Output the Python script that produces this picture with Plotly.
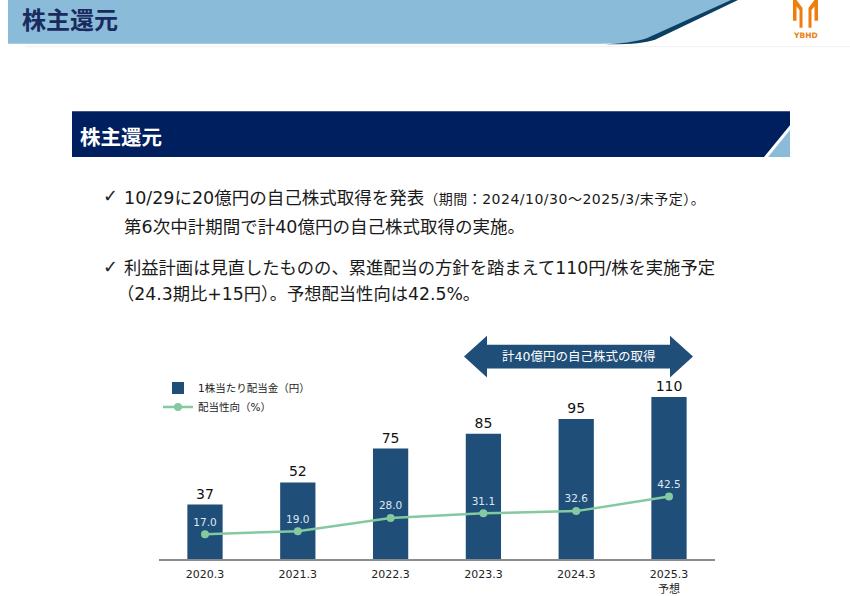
import plotly.graph_objects as go

W, H = 850, 596

categories = ["2020.3", "2021.3", "2022.3", "2023.3", "2024.3", "2025.3<br>予想"]
dividend = [37, 52, 75, 85, 95, 110]
payout = [17.0, 19.0, 28.0, 31.1, 32.6, 42.5]
bar_name = "1株当たり配当金（円）"
line_name = "配当性向（%）"

FONT = "DejaVu Sans, Noto Sans CJK JP"
CJK = "Noto Sans CJK JP"
NAVY = "#001f5f"
BAR = "#1f4e79"
LIGHT = "#8abcd9"
GREEN = "#84c9a0"


def px(x):
    return x / W


def py(y):
    return 1 - y / H


def path(points):
    s = "M " + " L ".join(f"{px(x):.5f},{py(y):.5f}" for x, y in points) + " Z"
    return s


fig = go.Figure()
fig.add_trace(go.Bar(
    x=categories, y=dividend, name=bar_name,
    marker=dict(color=BAR, line=dict(width=0)),
    width=0.38,
    text=[str(v) for v in dividend], textposition="outside",
    textfont=dict(size=14, color="#111111", family=FONT),
    cliponaxis=False,
))
fig.add_trace(go.Scatter(
    x=categories, y=payout, name=line_name,
    mode="lines+markers+text",
    line=dict(color=GREEN, width=2.5),
    marker=dict(color=GREEN, size=8),
    text=[f"{v:.1f}" for v in payout], textposition="top center",
    textfont=dict(size=10.5, color="#dfe8f1", family=FONT),
    cliponaxis=False,
))

shapes = []
# header band
shapes.append(dict(type="path", xref="paper", yref="paper", layer="below",
                   path=f"M {px(8)},{py(0)} L {px(735)},{py(0)} L {px(652)},{py(38)} "
                        f"Q {px(640)},{py(44)} {px(600)},{py(44)} L {px(8)},{py(44)} Z",
                   fillcolor=LIGHT, line=dict(width=0)))
shapes.append(dict(type="path", xref="paper", yref="paper",
                   path=f"M {px(731)},{py(0)} L {px(738)},{py(0)} L {px(655)},{py(40)} "
                        f"Q {px(640)},{py(45)} {px(605)},{py(44.5)} "
                        f"Q {px(638)},{py(43)} {px(650)},{py(37)} Z",
                   fillcolor="#0b3f63", line=dict(width=0)))
shapes.append(dict(type="line", xref="paper", yref="paper",
                   x0=px(25), x1=px(850), y0=py(47), y1=py(47),
                   line=dict(color="#f0f0f0", width=1)))
# logo
left_piece = [(793, 0), (796.5, 0), (802.5, 8), (802.5, 28), (799.5, 28), (799.5, 10),
              (796.5, 6.5), (796.5, 21), (793, 21)]
right_piece = [(1611 - x, y) for x, y in left_piece]
for pc in (left_piece, right_piece):
    shapes.append(dict(type="path", xref="paper", yref="paper", path=path(pc),
                       fillcolor="#ee7d0e", line=dict(width=0)))
# banner
shapes.append(dict(type="rect", xref="paper", yref="paper",
                   x0=px(72), x1=px(790), y0=py(158), y1=py(112),
                   fillcolor=NAVY, line=dict(width=0)))
shapes.append(dict(type="path", xref="paper", yref="paper",
                   path=path([(764, 158), (790, 126), (790, 158)]),
                   fillcolor="white", line=dict(width=0)))
shapes.append(dict(type="path", xref="paper", yref="paper",
                   path=path([(768, 158), (790, 131), (790, 158)]),
                   fillcolor=LIGHT, line=dict(width=0)))
# double arrow
shapes.append(dict(type="path", xref="paper", yref="paper",
                   path=path([(464, 359), (487, 338), (487, 347), (670, 347), (670, 338),
                              (693, 359), (670, 380), (670, 371), (487, 371), (487, 380)]),
                   fillcolor=BAR, line=dict(width=0)))

annotations = []


def txt(x, y, text, size, color="#1a1a1a", anchor="left", bold=False, family=FONT):
    if bold:
        text = f"<b>{text}</b>"
    annotations.append(dict(x=px(x), y=py(y), xref="paper", yref="paper", text=text,
                            showarrow=False, xanchor=anchor, yanchor="middle",
                            font=dict(size=size, color=color, family=family)))


txt(20, 19, "株主還元", 24, color="#1b2a5e", bold=True, family=CJK)
txt(805.5, 36, "YBHD", 7.5, color="#ee7d0e", anchor="center", bold=True, family="DejaVu Sans")
txt(78, 137, "株主還元", 20.5, color="white", bold=True, family=CJK)

txt(101, 197, "<b>✓</b>", 18, color="#222222", family="DejaVu Sans")
txt(122, 199, "10/29に20億円の自己株式取得を発表"
              "<span style=\"font-size:14px;letter-spacing:0.5px\">（期間：2024/10/30～2025/3/末予定）。</span>",
    17.5)
txt(122, 229, "第6次中計期間で計40億円の自己株式取得の実施。", 17.5)
txt(101, 268, "<b>✓</b>", 18, color="#222222", family="DejaVu Sans")
txt(122, 270, "利益計画は見直したものの、累進配当の方針を踏まえて110円/株を実施予定", 17.3)
txt(115, 296, "（24.3期比+15円）。予想配当性向は42.5%。", 17.3)

txt(578, 359, "計40億円の自己株式の取得", 12.5, color="white", anchor="center")

fig.update_layout(
    width=W, height=H,
    margin=dict(l=0, r=0, t=0, b=0),
    paper_bgcolor="white", plot_bgcolor="white",
    font=dict(family=FONT, color="#1a1a1a"),
    showlegend=True,
    legend=dict(x=px(158), y=py(376), xanchor="left", yanchor="top",
                font=dict(size=10.5, family=FONT, color="#222222"),
                bgcolor="rgba(0,0,0,0)", tracegroupgap=2, itemwidth=30),
    xaxis=dict(domain=[px(158.6), px(715.4)], type="category",
               showline=True, linecolor="#8c8c8c", linewidth=2,
               showgrid=False, zeroline=False, ticks="",
               tickfont=dict(size=11, color="#222222", family=FONT),
               ticklabelstandoff=4, fixedrange=True),
    yaxis=dict(domain=[py(563), py(384)], range=[0, 120.5],
               visible=False, fixedrange=True),
    bargap=0.62,
    shapes=shapes,
    annotations=annotations,
)

fig.write_html("out.html", config={"displayModeBar": False},
               post_script="document.body.style.margin='0';document.body.style.overflow='hidden';")
